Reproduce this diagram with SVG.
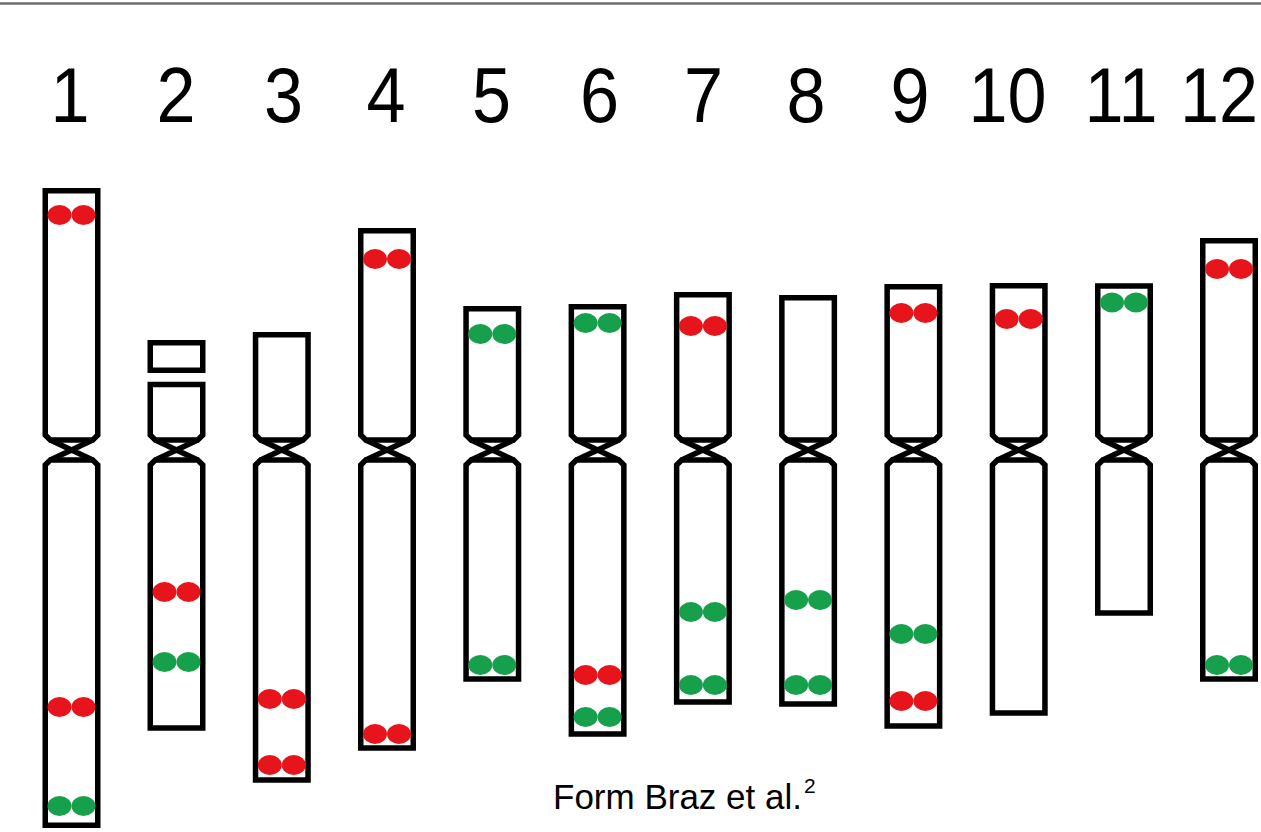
<svg xmlns="http://www.w3.org/2000/svg" width="1261" height="832" viewBox="0 0 1261 832">
  <style>
    .num { font-family: "Liberation Sans", Arial, sans-serif; font-size: 78px; fill: #000; text-anchor: middle; }
    .cap { font-family: "Liberation Sans", Arial, sans-serif; font-size: 35px; fill: #000; }
    .sup { font-size: 21px; }
    .arm { fill: #fff; stroke: #000; stroke-width: 5.5; stroke-linejoin: miter; }
    .cen { fill: none; stroke: #000; stroke-width: 5.5; }
    .r { fill: #e8141c; }
    .g { fill: #17a04c; }
  </style>
  <defs>
    <!-- a pair of sister-chromatid signals -->
    <g id="red"><ellipse class="r" cx="-12" cy="0" rx="12" ry="10"/><ellipse class="r" cx="12" cy="0" rx="12" ry="10"/></g>
    <g id="green"><ellipse class="g" cx="-12" cy="0" rx="12" ry="10"/><ellipse class="g" cx="12" cy="0" rx="12" ry="10"/></g>
    <!-- centromere constriction, centred on x = 0 -->
    <path id="cx" class="cen" d="M-21.25,440 L21.25,460 M21.25,440 L-21.25,460"/>
  </defs>

  <rect width="1261" height="832" fill="#fff"/>
  <line x1="0" y1="3.5" x2="1261" y2="3.5" stroke="#6d6d6d" stroke-width="2.5"/>

  <g id="labels">
    <text class="num" transform="translate(70,122) scale(0.9,1)">1</text>
    <text class="num" transform="translate(176,122) scale(0.9,1)">2</text>
    <text class="num" transform="translate(283.5,122) scale(0.9,1)">3</text>
    <text class="num" transform="translate(386,122) scale(0.9,1)">4</text>
    <text class="num" transform="translate(491.5,122) scale(0.9,1)">5</text>
    <text class="num" transform="translate(599.5,122) scale(0.9,1)">6</text>
    <text class="num" transform="translate(703.5,122) scale(0.9,1)">7</text>
    <text class="num" transform="translate(806,122) scale(0.9,1)">8</text>
    <text class="num" transform="translate(910,122) scale(0.9,1)">9</text>
    <text class="num" transform="translate(1007.5,122) scale(0.9,1)">10</text>
    <text class="num" transform="translate(1121,122) scale(0.9,1)">11</text>
    <text class="num" transform="translate(1219,122) scale(0.9,1)">12</text>
  </g>

  <!-- chromosome 1 -->
  <g id="chr1" transform="translate(71.5,0)">
    <path class="arm" d="M-26.25,190.75 V435 L-21.25,440 H21.25 L26.25,435 V190.75 Z"/>
    <path class="arm" d="M-21.25,460 H21.25 L26.25,465 V825.25 H-26.25 V465 Z"/>
    <use href="#cx"/>
    <use href="#red" y="215"/>
    <use href="#red" y="707"/>
    <use href="#green" y="806"/>
  </g>

  <!-- chromosome 2 -->
  <g id="chr2" transform="translate(176.5,0)">
    <rect class="arm" x="-26.25" y="342.75" width="52.5" height="27.5"/>
    <path class="arm" d="M-26.25,384.5 V435 L-21.25,440 H21.25 L26.25,435 V384.5 Z"/>
    <path class="arm" d="M-21.25,460 H21.25 L26.25,465 V728 H-26.25 V465 Z"/>
    <use href="#cx"/>
    <use href="#red" y="592"/>
    <use href="#green" y="662"/>
  </g>

  <!-- chromosome 3 -->
  <g id="chr3" transform="translate(281.8,0)">
    <path class="arm" d="M-26.25,334.75 V435 L-21.25,440 H21.25 L26.25,435 V334.75 Z"/>
    <path class="arm" d="M-21.25,460 H21.25 L26.25,465 V780 H-26.25 V465 Z"/>
    <use href="#cx"/>
    <use href="#red" y="699"/>
    <use href="#red" y="765"/>
  </g>

  <!-- chromosome 4 -->
  <g id="chr4" transform="translate(387,0)">
    <path class="arm" d="M-26.25,230.75 V435 L-21.25,440 H21.25 L26.25,435 V230.75 Z"/>
    <path class="arm" d="M-21.25,460 H21.25 L26.25,465 V748 H-26.25 V465 Z"/>
    <use href="#cx"/>
    <use href="#red" y="259"/>
    <use href="#red" y="734"/>
  </g>

  <!-- chromosome 5 -->
  <g id="chr5" transform="translate(492.3,0)">
    <path class="arm" d="M-26.25,308.75 V435 L-21.25,440 H21.25 L26.25,435 V308.75 Z"/>
    <path class="arm" d="M-21.25,460 H21.25 L26.25,465 V679 H-26.25 V465 Z"/>
    <use href="#cx"/>
    <use href="#green" y="334"/>
    <use href="#green" y="665"/>
  </g>

  <!-- chromosome 6 -->
  <g id="chr6" transform="translate(597.6,0)">
    <path class="arm" d="M-26.25,306.75 V435 L-21.25,440 H21.25 L26.25,435 V306.75 Z"/>
    <path class="arm" d="M-21.25,460 H21.25 L26.25,465 V734 H-26.25 V465 Z"/>
    <use href="#cx"/>
    <use href="#green" y="323"/>
    <use href="#red" y="675"/>
    <use href="#green" y="717"/>
  </g>

  <!-- chromosome 7 -->
  <g id="chr7" transform="translate(702.9,0)">
    <path class="arm" d="M-26.25,294.75 V435 L-21.25,440 H21.25 L26.25,435 V294.75 Z"/>
    <path class="arm" d="M-21.25,460 H21.25 L26.25,465 V702 H-26.25 V465 Z"/>
    <use href="#cx"/>
    <use href="#red" y="326"/>
    <use href="#green" y="612"/>
    <use href="#green" y="685"/>
  </g>

  <!-- chromosome 8 -->
  <g id="chr8" transform="translate(808.1,0)">
    <path class="arm" d="M-26.25,297.75 V435 L-21.25,440 H21.25 L26.25,435 V297.75 Z"/>
    <path class="arm" d="M-21.25,460 H21.25 L26.25,465 V704 H-26.25 V465 Z"/>
    <use href="#cx"/>
    <use href="#green" y="600"/>
    <use href="#green" y="685"/>
  </g>

  <!-- chromosome 9 -->
  <g id="chr9" transform="translate(913.4,0)">
    <path class="arm" d="M-26.25,286.75 V435 L-21.25,440 H21.25 L26.25,435 V286.75 Z"/>
    <path class="arm" d="M-21.25,460 H21.25 L26.25,465 V726 H-26.25 V465 Z"/>
    <use href="#cx"/>
    <use href="#red" y="313"/>
    <use href="#green" y="634"/>
    <use href="#red" y="701"/>
  </g>

  <!-- chromosome 10 -->
  <g id="chr10" transform="translate(1018.7,0)">
    <path class="arm" d="M-26.25,285.75 V435 L-21.25,440 H21.25 L26.25,435 V285.75 Z"/>
    <path class="arm" d="M-21.25,460 H21.25 L26.25,465 V713 H-26.25 V465 Z"/>
    <use href="#cx"/>
    <use href="#red" y="319"/>
  </g>

  <!-- chromosome 11 -->
  <g id="chr11" transform="translate(1124,0)">
    <path class="arm" d="M-26.25,286 V435 L-21.25,440 H21.25 L26.25,435 V286 Z"/>
    <path class="arm" d="M-21.25,460 H21.25 L26.25,465 V613 H-26.25 V465 Z"/>
    <use href="#cx"/>
    <use href="#green" y="302.5"/>
  </g>

  <!-- chromosome 12 -->
  <g id="chr12" transform="translate(1229,0)">
    <path class="arm" d="M-26.25,240.75 V435 L-21.25,440 H21.25 L26.25,435 V240.75 Z"/>
    <path class="arm" d="M-21.25,460 H21.25 L26.25,465 V679 H-26.25 V465 Z"/>
    <use href="#cx"/>
    <use href="#red" y="269"/>
    <use href="#green" y="665"/>
  </g>

  <text class="cap" x="553" y="809">Form Braz et al.<tspan class="sup" dx="2" dy="-16">2</tspan></text>
</svg>
